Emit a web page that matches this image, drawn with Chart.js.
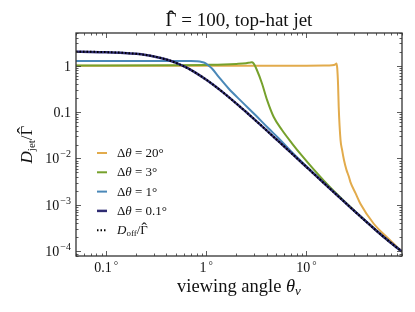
<!DOCTYPE html>
<html>
<head>
<meta charset="utf-8">
<script src="https://cdn.jsdelivr.net/npm/chart.js@4"></script>
<style>
  html, body { margin: 0; padding: 0; background: #fff; }
  canvas { display: block; }
</style>
</head>
<body>
<canvas id="chart" width="415" height="312"></canvas>
<script>
// viewing angles (degrees) and D/Gamma values
const anglesOff = [0.05, 0.07, 0.1, 0.15, 0.2, 0.25, 0.3, 0.4, 0.5, 0.6, 0.7, 0.8, 1, 1.2, 1.5, 2, 2.5, 3, 4, 5, 6, 7, 8, 10, 12, 15, 20, 25, 30, 40, 50, 60, 70, 80, 90];
const dOff = [1.985, 1.971, 1.941, 1.872, 1.783, 1.68, 1.57, 1.345, 1.135, 0.954, 0.802, 0.678, 0.494, 0.371, 0.2546, 0.1517, 0.0998, 0.0704, 0.0402, 0.0259, 0.0181, 0.01333, 0.01022, 0.00656, 0.00457, 0.00293, 0.00166, 0.00107, 0.000746, 0.000427, 0.00028, 0.0002, 0.000152, 0.000121, 0.0001];
const dJet01 = [1.972, 1.962, 1.935, 1.868, 1.78, 1.678, 1.568, 1.344, 1.134, 0.953, 0.802, 0.678, 0.494, 0.371, 0.2546, 0.1517, 0.0998, 0.0704, 0.0402, 0.0259, 0.0181, 0.01333, 0.01022, 0.00656, 0.00457, 0.00293, 0.00166, 0.00107, 0.000746, 0.000427, 0.00028, 0.0002, 0.000152, 0.000121, 0.0001];

const anglesJet1 = [0.05, 0.2, 0.5, 0.7, 0.8, 0.9, 0.977, 1.05, 1.14, 1.33, 1.67, 2.27, 3.09, 4.2, 5.3, 7, 10, 15, 20, 30, 45, 60, 90];
const dJet1 = [1.25, 1.25, 1.25, 1.245, 1.23, 1.19, 1.12, 1.0, 0.86, 0.57, 0.32, 0.165, 0.086, 0.044, 0.027, 0.0143, 0.0068, 0.00298, 0.00168, 0.000748, 0.000343, 0.0002, 0.0001];

const anglesJet3 = [0.05, 0.5, 1, 1.5, 2, 2.5, 2.75, 2.85, 2.95, 3.2, 3.6, 4.05, 4.7, 5.7, 7.2, 9.1, 12, 15, 20, 30, 45, 60, 90];
const dJet3 = [1.0, 1.01, 1.03, 1.05, 1.08, 1.12, 1.16, 1.17, 1.12, 0.8, 0.41, 0.18, 0.079, 0.041, 0.021, 0.0112, 0.0056, 0.0033, 0.00175, 0.00076, 0.000345, 0.0002, 0.0001];

const anglesJet20 = [0.05, 1, 5, 10, 15, 18, 19.5, 19.95, 20.3, 20.7, 21, 21.9, 22.7, 23.7, 25.1, 26.5, 27.5, 30.9, 34.7, 46.8, 64.1, 90];
const dJet20 = [0.99, 0.99, 0.99, 0.99, 0.995, 1.01, 1.06, 1.11, 0.88, 0.38, 0.13, 0.025, 0.0153, 0.0093, 0.0057, 0.0041, 0.0031, 0.0018, 0.00105, 0.0004, 0.0002, 0.0001];

const xTicks = [0.1, 1, 10];
const xTickLabels = ['0.1', '1', '10'];
const yTicks = [1, 0.1, 0.01, 0.001, 0.0001];
const yTickBase = ['1', '0.1', '10', '10', '10'];
const yTickExp = ['', '', '\u22122', '\u22123', '\u22124'];

const legendLabels = ['20°', '3°', '1°', '0.1°'];

const SERIF = '"Liberation Serif", "DejaVu Serif", serif';
const font = (size, style) => (style ? style + ' ' : '') + size + 'px ' + SERIF;

const pts = (xs, ys) => xs.map((x, i) => ({ x: x, y: ys[i] }));

function runsWidth(ctx, runs) {
  let w = 0;
  runs.forEach(r => {
    if (r.over) return;
    ctx.font = r.f;
    w += ctx.measureText(r.t).width + (r.dx || 0);
  });
  return w;
}

// draws text pieces one after the other; a piece with "over" sits centred on the previous one
function drawRuns(ctx, runs, x, y, align) {
  const w = runsWidth(ctx, runs);
  let cx = align === 'center' ? x - w / 2 : align === 'right' ? x - w : x;
  let prevX = cx, prevW = 0;
  runs.forEach(r => {
    ctx.font = r.f;
    const tw = ctx.measureText(r.t).width;
    if (r.over) {
      ctx.fillText(r.t, prevX + (prevW - tw) / 2 + (r.dx || 0), y + (r.dy || 0));
      return;
    }
    cx += r.dx || 0;
    ctx.fillText(r.t, cx, y + (r.dy || 0));
    prevX = cx; prevW = tw;
    cx += tw;
  });
}

const decor = {
  id: 'decor',
  afterDraw(chart) {
    const ctx = chart.ctx;
    const a = chart.chartArea;
    const xs = chart.scales.x;
    const ys = chart.scales.y;
    ctx.save();
    ctx.fillStyle = '#111';
    ctx.textBaseline = 'alphabetic';

    // frame
    ctx.strokeStyle = '#333';
    ctx.lineWidth = 1.3;
    ctx.strokeRect(a.left, a.top, a.right - a.left, a.bottom - a.top);

    // inward ticks on all four sides
    ctx.lineWidth = 0.8;
    for (let e = -2; e <= 1; e++) {
      for (let m = 1; m <= 9; m++) {
        const v = m * Math.pow(10, e);
        if (v < xs.min || v > xs.max) continue;
        const px = Math.round(xs.getPixelForValue(v)) + 0.5;
        const len = m === 1 ? 5 : 2.5;
        ctx.beginPath();
        ctx.moveTo(px, a.bottom); ctx.lineTo(px, a.bottom - len);
        ctx.moveTo(px, a.top); ctx.lineTo(px, a.top + len);
        ctx.stroke();
      }
    }
    for (let e = -5; e <= 0; e++) {
      for (let m = 1; m <= 9; m++) {
        const v = m * Math.pow(10, e);
        if (v < ys.min || v > ys.max) continue;
        const py = Math.round(ys.getPixelForValue(v)) + 0.5;
        const len = m === 1 ? 5 : 2.5;
        ctx.beginPath();
        ctx.moveTo(a.left, py); ctx.lineTo(a.left + len, py);
        ctx.moveTo(a.right, py); ctx.lineTo(a.right - len, py);
        ctx.stroke();
      }
    }

    // tick labels
    xTicks.forEach((v, i) => {
      const px = xs.getPixelForValue(v);
      drawRuns(ctx, [{ t: xTickLabels[i], f: font(14) }, { t: '°', f: font(11), dx: 2, dy: -3 }], px, a.bottom + 16, 'center');
    });
    yTicks.forEach((v, i) => {
      const py = ys.getPixelForValue(v);
      const runs = [{ t: yTickBase[i], f: font(14) }];
      if (yTickExp[i]) runs.push({ t: yTickExp[i], f: font(10), dx: 1, dy: -6 });
      drawRuns(ctx, runs, a.left - 5, py + 5, 'right');
    });

    // title
    drawRuns(ctx, [
      { t: 'Γ', f: font(19) },
      { t: '\u02C6', f: font(24), over: true, dy: 1, dx: 0 },
      { t: ' = 100, top-hat jet', f: font(19) }
    ], (a.left + a.right) / 2, 26, 'center');

    // x axis title
    drawRuns(ctx, [
      { t: 'viewing angle ', f: font(18.5) },
      { t: 'θ', f: font(18.5, 'italic') },
      { t: 'v', f: font(13, 'italic'), dy: 3 }
    ], (a.left + a.right) / 2, 292, 'center');

    // y axis title
    ctx.save();
    ctx.translate(32, (a.top + a.bottom) / 2);
    ctx.rotate(-Math.PI / 2);
    drawRuns(ctx, [
      { t: 'D', f: font(17, 'italic') },
      { t: 'jet', f: font(11), dy: 3 },
      { t: '/', f: font(17) },
      { t: 'Γ', f: font(17) },
      { t: '\u02C6', f: font(21), over: true, dy: 0 }
    ], 0, 0, 'center');
    ctx.restore();

    // legend
    const entries = [4, 3, 2, 1, 0].map(k => chart.data.datasets[k]);
    entries.forEach((ds, i) => {
      const y = 153 + i * 19.3;
      ctx.save();
      ctx.strokeStyle = ds.borderColor;
      ctx.lineWidth = ds.borderWidth;
      ctx.setLineDash(ds.borderDash || []);
      ctx.beginPath();
      ctx.moveTo(97, y); ctx.lineTo(107, y);
      ctx.stroke();
      ctx.restore();
      if (i < 4) {
        drawRuns(ctx, [
          { t: 'Δ', f: font(13) },
          { t: 'θ', f: font(13, 'italic') },
          { t: ' = ' + legendLabels[i], f: font(13) }
        ], 117, y + 4, 'left');
      } else {
        drawRuns(ctx, [
          { t: 'D', f: font(13, 'italic') },
          { t: 'off', f: font(9), dy: 2 },
          { t: '/', f: font(13) },
          { t: 'Γ', f: font(13) },
          { t: '\u02C6', f: font(16), over: true, dy: 0 }
        ], 117, y + 4, 'left');
      }
    });
    ctx.restore();
  }
};

const lineDs = (label, xsArr, ysArr, color, width, dash) => ({
  label: label,
  data: pts(xsArr, ysArr),
  borderColor: color,
  borderWidth: width,
  borderDash: dash || [],
  pointRadius: 0,
  fill: false,
  cubicInterpolationMode: 'monotone'
});

new Chart(document.getElementById('chart'), {
  type: 'line',
  data: {
    datasets: [
      lineDs('D_off/Γ', anglesOff, dOff, '#000000', 2, [1.5, 2]),
      lineDs('Δθ = 0.1°', anglesOff, dJet01, '#2f2c72', 2.5),
      lineDs('Δθ = 1°', anglesJet1, dJet1, '#4a88b8', 2),
      lineDs('Δθ = 3°', anglesJet3, dJet3, '#76a12c', 2),
      lineDs('Δθ = 20°', anglesJet20, dJet20, '#e2ab4c', 2)
    ]
  },
  options: {
    responsive: false,
    animation: false,
    devicePixelRatio: 1,
    layout: { padding: { left: 76, right: 13, top: 33, bottom: 56 } },
    plugins: { legend: { display: false }, tooltip: { enabled: false }, title: { display: false } },
    scales: {
      x: {
        type: 'logarithmic',
        min: 0.05,
        max: 90,
        grid: { display: false },
        border: { display: false },
        ticks: { display: false },
        afterFit: s => { s.height = 0; }
      },
      y: {
        type: 'logarithmic',
        min: 0.00008,
        max: 5,
        grid: { display: false },
        border: { display: false },
        ticks: { display: false },
        afterFit: s => { s.width = 0; }
      }
    }
  },
  plugins: [decor]
});
</script>
</body>
</html>
